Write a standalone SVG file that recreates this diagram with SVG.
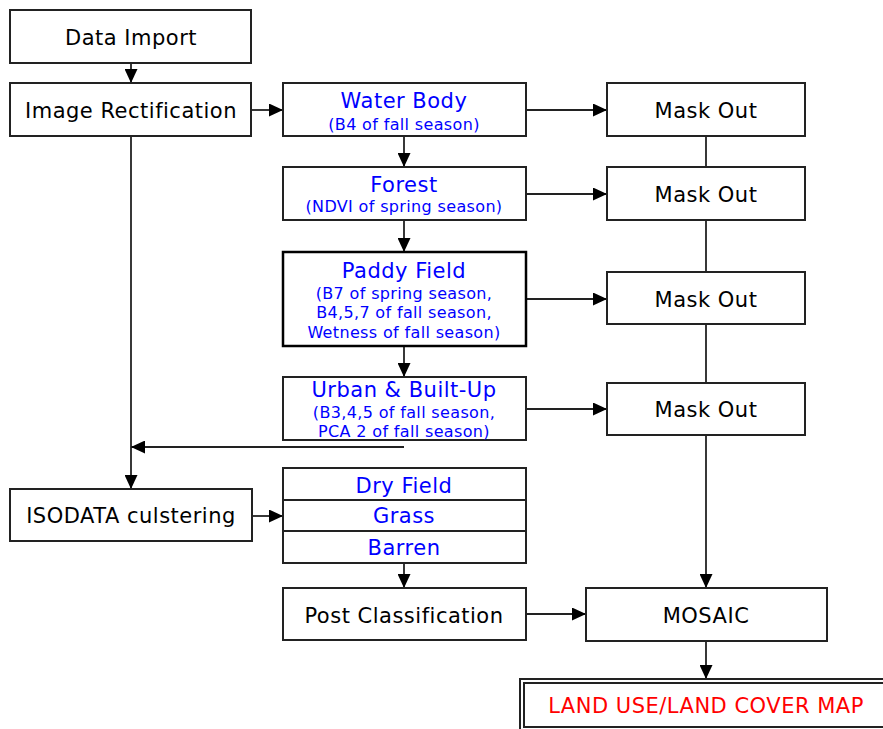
<svg xmlns="http://www.w3.org/2000/svg" width="883" height="729" viewBox="0 0 883 729">
<defs>
<marker id="ah" markerWidth="14" markerHeight="13" refX="14" refY="6.5" orient="auto" markerUnits="userSpaceOnUse">
<path d="M0,0 L14,6.5 L0,13 z" fill="#000"/>
</marker>
<style>
.box{fill:#fff;stroke:#222;stroke-width:2}
.thick{fill:#fff;stroke:#000;stroke-width:2.5}
.t{font-family:"DejaVu Sans","Verdana",sans-serif;font-size:21px;letter-spacing:0.5px;fill:#000;text-anchor:middle}
.b{font-family:"DejaVu Sans","Verdana",sans-serif;font-size:21px;letter-spacing:0.5px;fill:#0000ff;text-anchor:middle}
.s{font-family:"DejaVu Sans","Verdana",sans-serif;font-size:16px;letter-spacing:0.35px;fill:#0000ff;text-anchor:middle}
.r{font-family:"DejaVu Sans","Verdana",sans-serif;font-size:21px;letter-spacing:0.5px;fill:#ff0000;text-anchor:middle}
.c{fill:none;stroke:#222;stroke-width:1.8}
.a{fill:none;stroke:#222;stroke-width:1.8;marker-end:url(#ah)}
</style>
</defs>
<g id="connectors">
<line class="a" x1="131" y1="63" x2="131" y2="83"/>
<line class="a" x1="251" y1="110" x2="283" y2="110"/>
<line class="a" x1="404" y1="136" x2="404" y2="167"/>
<line class="a" x1="404" y1="220" x2="404" y2="252"/>
<line class="a" x1="404" y1="346" x2="404" y2="377"/>
<line class="a" x1="526" y1="110" x2="607" y2="110"/>
<line class="a" x1="526" y1="194" x2="607" y2="194"/>
<line class="a" x1="526" y1="299" x2="607" y2="299"/>
<line class="a" x1="526" y1="409" x2="607" y2="409"/>
<line class="c" x1="706" y1="136" x2="706" y2="167"/>
<line class="c" x1="706" y1="220" x2="706" y2="272"/>
<line class="c" x1="706" y1="324" x2="706" y2="383"/>
<line class="a" x1="706" y1="435" x2="706" y2="588"/>
<line class="a" x1="131" y1="136" x2="131" y2="489"/>
<line class="a" x1="404" y1="447" x2="131" y2="447"/>
<line class="a" x1="252" y1="516" x2="283" y2="516"/>
<line class="a" x1="404" y1="563" x2="404" y2="588"/>
<line class="a" x1="526" y1="614" x2="586" y2="614"/>
<line class="a" x1="706" y1="641" x2="706" y2="679"/>
</g>
<g id="data-import">
<rect class="box" x="10" y="10" width="241" height="53"/>
<text class="t" x="131" y="45">Data Import</text>
</g>
<g id="image-rectification">
<rect class="box" x="10" y="83" width="241" height="53"/>
<text class="t" x="131" y="118">Image Rectification</text>
</g>
<g id="water-body">
<rect class="box" x="283" y="83" width="243" height="53"/>
<text class="b" x="404" y="108">Water Body</text>
<text class="s" x="404" y="130">(B4 of fall season)</text>
</g>
<g id="forest">
<rect class="box" x="283" y="167" width="243" height="53"/>
<text class="b" x="404" y="192">Forest</text>
<text class="s" x="404" y="212">(NDVI of spring season)</text>
</g>
<g id="paddy-field">
<rect class="thick" x="283" y="252" width="243" height="94"/>
<text class="b" x="404" y="278">Paddy Field</text>
<text class="s" x="404" y="299">(B7 of spring season,</text>
<text class="s" x="404" y="318">B4,5,7 of fall season,</text>
<text class="s" x="404" y="338">Wetness of fall season)</text>
</g>
<g id="urban">
<rect class="box" x="283" y="377" width="243" height="63"/>
<text class="b" x="404" y="397">Urban &amp; Built-Up</text>
<text class="s" x="404" y="418">(B3,4,5 of fall season,</text>
<text class="s" x="404" y="437">PCA 2 of fall season)</text>
</g>
<g id="mask-out-1">
<rect class="box" x="607" y="83" width="198" height="53"/>
<text class="t" x="706" y="118">Mask Out</text>
</g>
<g id="mask-out-2">
<rect class="box" x="607" y="167" width="198" height="53"/>
<text class="t" x="706" y="202">Mask Out</text>
</g>
<g id="mask-out-3">
<rect class="box" x="607" y="272" width="198" height="52"/>
<text class="t" x="706" y="307">Mask Out</text>
</g>
<g id="mask-out-4">
<rect class="box" x="607" y="383" width="198" height="52"/>
<text class="t" x="706" y="417">Mask Out</text>
</g>
<g id="isodata">
<rect class="box" x="10" y="489" width="242" height="52"/>
<text class="t" x="131" y="523">ISODATA culstering</text>
</g>
<g id="classes">
<rect class="box" x="283" y="468" width="243" height="32"/>
<rect class="box" x="283" y="500" width="243" height="31"/>
<rect class="box" x="283" y="531" width="243" height="32"/>
<text class="b" x="404" y="493">Dry Field</text>
<text class="b" x="404" y="523">Grass</text>
<text class="b" x="404" y="555">Barren</text>
</g>
<g id="post-classification">
<rect class="box" x="283" y="588" width="243" height="52"/>
<text class="t" x="404" y="623">Post Classification</text>
</g>
<g id="mosaic">
<rect class="box" x="586" y="588" width="241" height="53"/>
<text class="t" x="706" y="623">MOSAIC</text>
</g>
<g id="land-use-map">
<rect x="520" y="679" width="380" height="60" fill="#fff" stroke="#222" stroke-width="2"/>
<rect x="524" y="683" width="372" height="44" fill="none" stroke="#222" stroke-width="2"/>
<text class="r" x="706" y="713">LAND USE/LAND COVER MAP</text>
</g>
</svg>
